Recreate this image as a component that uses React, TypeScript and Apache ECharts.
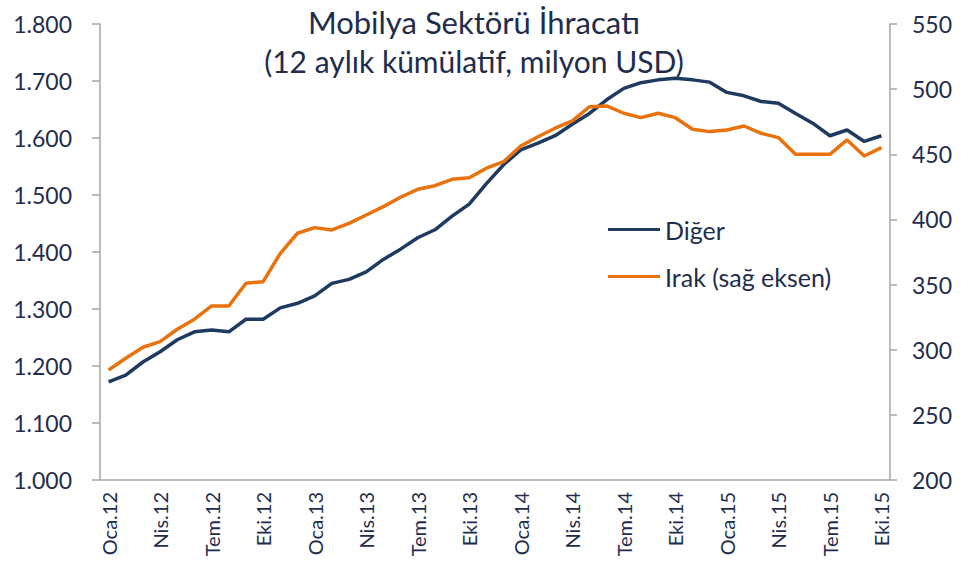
import React, { useEffect, useRef } from "react";
import * as echarts from "echarts";

const months = ["Oca", "Şub", "Mar", "Nis", "May", "Haz", "Tem", "Ağu", "Eyl", "Eki", "Kas", "Ara"];
const years = ["12", "13", "14", "15"];
const categories: string[] = [];
years.forEach((y) => months.forEach((m) => categories.push(`${m}.${y}`)));
const cats = categories.slice(0, 46);

const digerValues = [
  1.172, 1.184, 1.207, 1.225, 1.246, 1.26, 1.263, 1.26, 1.282, 1.282, 1.302, 1.31,
  1.323, 1.345, 1.352, 1.365, 1.387, 1.405, 1.425, 1.439, 1.463, 1.484, 1.52, 1.553,
  1.579, 1.591, 1.604, 1.624, 1.643, 1.667, 1.687, 1.697, 1.702, 1.705, 1.702, 1.698,
  1.68, 1.674, 1.664, 1.661, 1.643, 1.626, 1.604, 1.614, 1.594, 1.604,
];
const irakValues = [
  284.4, 293.4, 301.9, 306.2, 315.7, 323.4, 333.6, 333.6, 351.0, 352.2, 374.0, 389.4,
  393.7, 391.9, 397.0, 403.4, 409.8, 417.0, 423.1, 425.9, 430.8, 432.0, 439.3, 444.3,
  456.4, 463.5, 470.0, 475.6, 486.5, 487.1, 481.5, 478.1, 481.5, 478.1, 469.2, 467.4,
  468.7, 471.7, 466.1, 462.8, 450.0, 450.0, 450.0, 461.0, 448.7, 455.1,
];

const titleText = "Mobilya Sektörü İhracatı";
const subtitleText = "(12 aylık kümülatif, milyon USD)";
const seriesNames = ["Diğer", "Irak (sağ eksen)"];

const NAVY = "#1F3A60";
const ORANGE = "#E8720C";
const TEXT = "#1F2D4D";
const AXIS = "#A6A6A6";
const FONT = "Lato, 'Open Sans', sans-serif";

export default function App() {
  const ref = useRef<HTMLDivElement>(null);
  useEffect(() => {
    if (!ref.current) return;
    const chart = echarts.init(ref.current, undefined, { renderer: "svg" });
    chart.setOption({
      animation: false,
      backgroundColor: "#fff",
      textStyle: { fontFamily: FONT },
      title: [
        {
          text: titleText,
          left: 469,
          top: 1,
          textAlign: "center",
          textStyle: { fontFamily: FONT, fontSize: 31, fontWeight: "normal", color: TEXT },
        },
        {
          text: subtitleText,
          left: 469,
          top: 41,
          textAlign: "center",
          textStyle: { fontFamily: FONT, fontSize: 30, fontWeight: "normal", color: TEXT },
        },
      ],
      legend: {
        orient: "vertical",
        left: 603,
        top: 212,
        itemGap: 22,
        icon: "rect",
        itemWidth: 52,
        itemHeight: 3,
        textStyle: { fontFamily: FONT, fontSize: 25, color: TEXT, padding: [0, 0, 0, 0] },
        data: seriesNames,
      },
      grid: { left: 100, right: 71, top: 24, bottom: 107 },
      xAxis: {
        type: "category",
        data: cats,
        boundaryGap: true,
        axisLine: { lineStyle: { color: AXIS, width: 1.5 } },
        axisTick: { interval: 2, length: 8, lineStyle: { color: AXIS, width: 1.5 } },
        axisLabel: {
          interval: 2,
          rotate: 90,
          margin: 12,
          fontSize: 20,
          color: TEXT,
          fontFamily: FONT,
        },
        splitLine: { show: false },
      },
      yAxis: [
        {
          type: "value",
          min: 1.0,
          max: 1.8,
          interval: 0.1,
          axisLine: { show: true, lineStyle: { color: AXIS, width: 1.5 } },
          axisTick: { show: true, length: 8, lineStyle: { color: AXIS, width: 1.5 } },
          splitLine: { show: false },
          axisLabel: {
            margin: 28,
            fontSize: 23,
            color: TEXT,
            fontFamily: FONT,
            formatter: (v: number) => v.toFixed(3),
          },
        },
        {
          type: "value",
          min: 200,
          max: 550,
          interval: 50,
          position: "right",
          axisLine: { show: true, lineStyle: { color: AXIS, width: 1.5 } },
          axisTick: { show: true, length: 7, lineStyle: { color: AXIS, width: 1.5 } },
          splitLine: { show: false },
          axisLabel: { margin: 22, fontSize: 23, color: TEXT, fontFamily: FONT },
        },
      ],
      series: [
        {
          name: seriesNames[0],
          type: "line",
          data: digerValues,
          yAxisIndex: 0,
          showSymbol: false,
          lineStyle: { color: NAVY, width: 3.5 },
          itemStyle: { color: NAVY },
        },
        {
          name: seriesNames[1],
          type: "line",
          data: irakValues,
          yAxisIndex: 1,
          showSymbol: false,
          lineStyle: { color: ORANGE, width: 3.5 },
          itemStyle: { color: ORANGE },
        },
      ],
    });
    return () => chart.dispose();
  }, []);
  return <div ref={ref} style={{ width: 961, height: 587, position: "absolute", left: 0, top: 0 }} />;
}
